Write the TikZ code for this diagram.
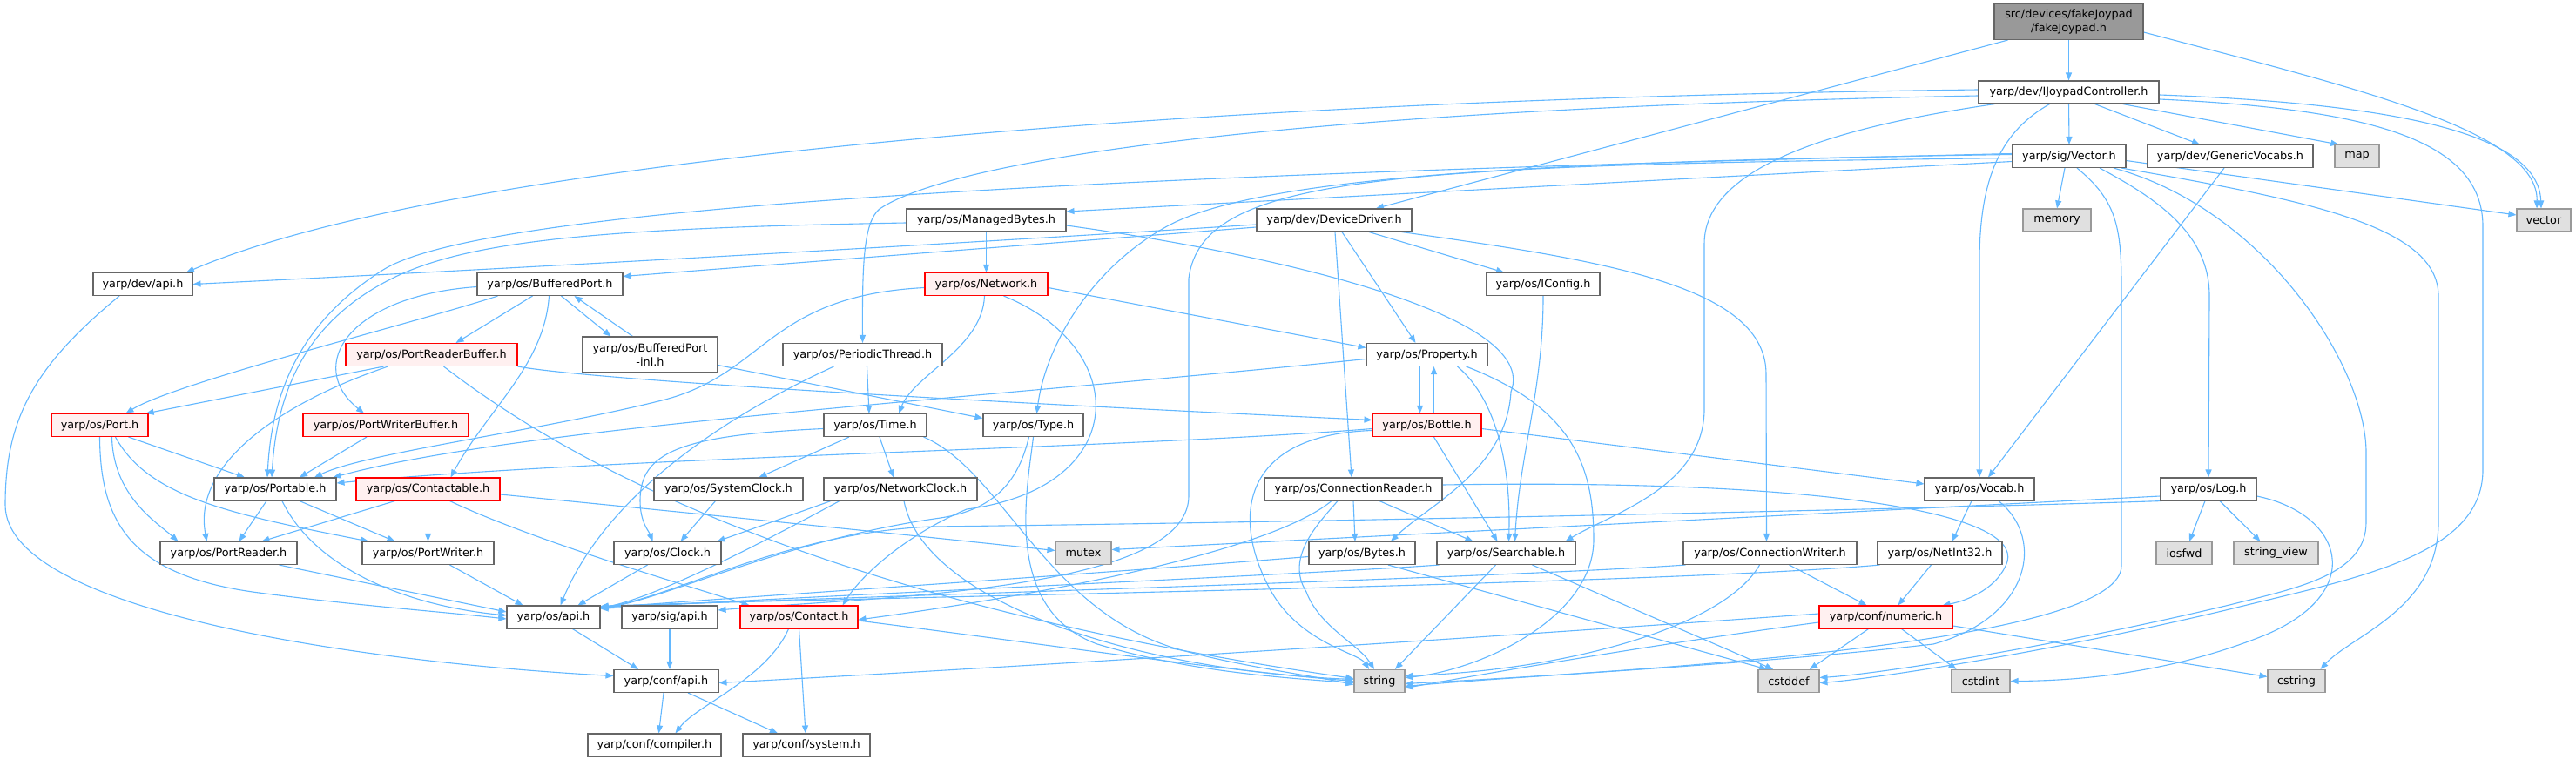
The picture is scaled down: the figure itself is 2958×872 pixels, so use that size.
\documentclass[tikz,border=0pt]{standalone}
\usepackage{fontspec}
\setmainfont{DejaVu Sans}
\usetikzlibrary{arrows.meta}
\definecolor{edgec}{HTML}{63B8FF}
\definecolor{bordc}{HTML}{666666}
\definecolor{gbord}{HTML}{999999}
\definecolor{gfill}{HTML}{E0E0E0}
\definecolor{rfill}{HTML}{FFF0F0}
\definecolor{rbord}{HTML}{FF0000}
\definecolor{mfill}{HTML}{999999}
\pgfdeclarelayer{bg}
\pgfsetlayers{bg,main}
\newcommand{\nfont}{\fontsize{12.8pt}{15.4pt}\selectfont}
\tikzset{
 nbase/.style={rectangle, inner sep=0pt, minimum height=26pt, line width=1.1pt, font=\nfont, text=black},
 nw/.style={nbase, draw=bordc, fill=white},
 nr/.style={nbase, draw=rbord, fill=rfill},
 ng/.style={nbase, draw=gbord, fill=gfill},
 nm/.style={nbase, draw=bordc, fill=mfill, minimum height=41pt, align=center},
 nw2/.style={nw, minimum height=41pt, align=center},
 edg/.style={draw=edgec, line width=1.1pt, -{Triangle[length=9pt,width=7pt]}},
}
\begin{document}
\begin{tikzpicture}[x=1pt,y=-1pt]
\begin{pgfonlayer}{bg}
\fill[white] (0,0) rectangle (2958,872);
\end{pgfonlayer}
\useasboundingbox (0,0) rectangle (2958,872);
% nodes
\node[nm, minimum width=171pt] (fake) at (2375.5,25) {src/devices/fakeJoypad\\/fakeJoypad.h};
\node[nw, minimum width=207pt] (ijoy) at (2375.5,106) {yarp/dev/IJoypadController.h};
\node[nw, minimum width=130pt] (vec) at (2376,179.5) {yarp/sig/Vector.h};
\node[nw, minimum width=190pt] (gv) at (2561,179.5) {yarp/dev/GenericVocabs.h};
\node[ng, minimum width=51pt] (map) at (2706.5,179.5) {map};
\node[nw, minimum width=183pt] (mb) at (1132.5,253) {yarp/os/ManagedBytes.h};
\node[nw, minimum width=178pt] (dd) at (1532,253) {yarp/dev/DeviceDriver.h};
\node[ng, minimum width=78pt] (memory) at (2362,253) {memory};
\node[ng, minimum width=62pt] (vector) at (2921,253) {vector};
\node[nw, minimum width=114pt] (devapi) at (164,326.5) {yarp/dev/api.h};
\node[nw, minimum width=167pt] (bp) at (631.5,326.5) {yarp/os/BufferedPort.h};
\node[nr, minimum width=141pt] (net) at (1132.5,326.5) {yarp/os/Network.h};
\node[nw, minimum width=130pt] (icfg) at (1772,326.5) {yarp/os/IConfig.h};
\node[nr, minimum width=197pt] (prb) at (495.5,407.5) {yarp/os/PortReaderBuffer.h};
\node[nw2, minimum width=155pt] (bpinl) at (746.5,407.5) {yarp/os/BufferedPort\\-inl.h};
\node[nw, minimum width=183pt] (pt) at (990.5,407.5) {yarp/os/PeriodicThread.h};
\node[nw, minimum width=139pt] (prop) at (1638.5,407.5) {yarp/os/Property.h};
\node[nr, minimum width=111pt] (port) at (114.5,488.5) {yarp/os/Port.h};
\node[nr, minimum width=190pt] (pwb) at (443,488.5) {yarp/os/PortWriterBuffer.h};
\node[nw, minimum width=118pt] (time) at (1005,488.5) {yarp/os/Time.h};
\node[nw, minimum width=115pt] (type) at (1186.5,488.5) {yarp/os/Type.h};
\node[nr, minimum width=125pt] (bottle) at (1638.5,488.5) {yarp/os/Bottle.h};
\node[nw, minimum width=140pt] (portable) at (316,562) {yarp/os/Portable.h};
\node[nr, minimum width=165pt] (contactable) at (491.5,562) {yarp/os/Contactable.h};
\node[nw, minimum width=171pt] (sysclock) at (836.5,562) {yarp/os/SystemClock.h};
\node[nw, minimum width=176pt] (netclock) at (1034,562) {yarp/os/NetworkClock.h};
\node[nw, minimum width=204pt] (cr) at (1554,562) {yarp/os/ConnectionReader.h};
\node[nw, minimum width=126pt] (vocab) at (2273,562) {yarp/os/Vocab.h};
\node[nw, minimum width=110pt] (log) at (2536,562) {yarp/os/Log.h};
\node[nw, minimum width=157pt] (preader) at (262.5,635.5) {yarp/os/PortReader.h};
\node[nw, minimum width=151pt] (pwriter) at (491.5,635.5) {yarp/os/PortWriter.h};
\node[nw, minimum width=123pt] (clock) at (766.5,635.5) {yarp/os/Clock.h};
\node[ng, minimum width=64pt] (mutex) at (1244,635.5) {mutex};
\node[nw, minimum width=122pt] (bytes) at (1564,635.5) {yarp/os/Bytes.h};
\node[nw, minimum width=159pt] (search) at (1729.5,635.5) {yarp/os/Searchable.h};
\node[nw, minimum width=199pt] (cw) at (2032.5,635.5) {yarp/os/ConnectionWriter.h};
\node[nw, minimum width=143pt] (netint) at (2227.5,635.5) {yarp/os/NetInt32.h};
\node[ng, minimum width=64pt] (iosfwd) at (2508,635.5) {iosfwd};
\node[ng, minimum width=97pt] (sv) at (2613.5,635.5) {string\_view};
\node[nw, minimum width=107pt] (osapi) at (635.5,709) {yarp/os/api.h};
\node[nw, minimum width=110pt] (sigapi) at (769,709) {yarp/sig/api.h};
\node[nr, minimum width=135pt] (contact) at (917.5,709) {yarp/os/Contact.h};
\node[nr, minimum width=153pt] (numeric) at (2165.5,709) {yarp/conf/numeric.h};
\node[nw, minimum width=120pt] (confapi) at (765,782.5) {yarp/conf/api.h};
\node[ng, minimum width=58pt] (string) at (1584,782.5) {string};
\node[ng, minimum width=70pt] (cstddef) at (2054,782.5) {cstddef};
\node[ng, minimum width=67pt] (cstdint) at (2274.5,782.5) {cstdint};
\node[ng, minimum width=66pt] (cstring) at (2637,782.5) {cstring};
\node[nw, minimum width=153pt] (compiler) at (751.5,856) {yarp/conf/compiler.h};
\node[nw, minimum width=146pt] (system) at (926,856) {yarp/conf/system.h};
% edges
\begin{pgfonlayer}{bg}
% fakeJoypad
\draw[edg] (fake.south) -- (ijoy.north);
\draw[edg] ([xshift=-70pt]fake.south) -- ([xshift=48pt]dd.north);
\draw[edg] ([yshift=-12pt]fake.east) .. controls (2700,100) and (2915,150) .. ([xshift=-8pt]vector.north);
% IJoypadController
\draw[edg] ([yshift=3pt]ijoy.west) .. controls (1300,115) and (500,190) .. ([xshift=50pt]devapi.north);
\draw[edg] ([yshift=-4pt]ijoy.west) .. controls (1500,125) and (1100,180) .. (1010,240) .. controls (992,255) and (990,300) .. (pt.north);
\draw[edg] (ijoy.south) -- (vec.north);
\draw[edg] ([xshift=30pt]ijoy.south) -- ([xshift=-35pt]gv.north);
\draw[edg] ([xshift=62pt]ijoy.south) -- ([xshift=5pt]map.north west);
\draw[edg] ([yshift=-3pt]ijoy.east) .. controls (2780,120) and (2915,160) .. ([xshift=-3pt]vector.north);
\draw[edg] ([xshift=-22pt]ijoy.south) .. controls (2300,150) and (2273,200) .. (2273,300) -- (vocab.north);
\draw[edg] ([xshift=-85pt]ijoy.south) .. controls (2150,140) and (1957,180) .. (1957,280) -- (1957,470) .. controls (1957,560) and (1850,590) .. ([xshift=-12pt]search.north east);
\draw[edg] ([yshift=-8pt]ijoy.east) .. controls (2720,125) and (2851,160) .. (2851,260) -- (2851,540) .. controls (2851,640) and (2700,665) .. (2560,700) .. controls (2350,750) and (2150,780) .. ([yshift=-2pt]cstddef.east);
% DeviceDriver
\draw[edg] ([yshift=-5pt]dd.west) .. controls (1100,280) and (600,308) .. (devapi.east);
\draw[edg] ([yshift=-8pt]dd.west) -- ([yshift=9pt]bp.east);
\draw[edg] ([xshift=9pt]dd.south) -- ([xshift=-13pt]prop.north);
\draw[edg] ([xshift=40pt]dd.south) -- ([xshift=-45pt]icfg.north);
\draw[edg] ([xshift=1pt]dd.south) -- ([xshift=-2pt]cr.north);
\draw[edg] ([xshift=-12pt]dd.south east) .. controls (1850,300) and (2028,330) .. (2028,430) -- ([xshift=-4pt]cw.north);
% ManagedBytes
\draw[edg] (mb.south) -- (net.north);
\draw[edg] ([yshift=-3pt]mb.west) .. controls (700,262) and (540,275) .. (450,320) .. controls (350,370) and (318,450) .. ([xshift=-4pt]portable.north);
\draw[edg] ([yshift=-6pt]mb.east) .. controls (1450,290) and (1770,360) .. (1735,450) .. controls (1730,540) and (1640,580) .. ([xshift=33pt]bytes.north);
% Vector
\draw[edg] ([yshift=-6pt]vec.west) -- ([yshift=10pt]mb.east);
\draw[edg] ([yshift=3pt]vec.west) .. controls (1300,200) and (560,235) .. (440,310) .. controls (345,370) and (312,450) .. ([xshift=-9pt]portable.north);
\draw[edg] ([yshift=2pt]vec.west) .. controls (1800,185) and (1450,200) .. (1340,260) .. controls (1250,310) and (1200,400) .. ([xshift=4pt]type.north);
\draw[edg] ([yshift=-2pt]vec.west) .. controls (1600,190) and (1380,200) .. (1365,320) -- (1365,570) .. controls (1365,680) and (1000,686) .. ([yshift=8pt]sigapi.east);
\draw[edg] ([xshift=-5pt]vec.south) -- (memory.north);
\draw[edg] ([yshift=-5pt]vec.east) -- ([yshift=6pt]vector.west);
\draw[edg] ([xshift=35pt]vec.south) .. controls (2480,230) and (2537,270) .. (2537,340) -- (log.north);
\draw[edg] ([xshift=60pt]vec.south) .. controls (2650,230) and (2800,260) .. (2800,340) -- (2800,600) .. controls (2800,700) and (2700,730) .. ([xshift=-6pt]cstring.north east);
\draw[edg] ([xshift=9pt]vec.south) .. controls (2430,230) and (2436,260) .. (2436,330) -- (2436,650) .. controls (2436,730) and (2000,765) .. ([yshift=-3pt]string.east);
\draw[edg] ([xshift=51pt]vec.south) .. controls (2600,240) and (2717,420) .. (2717,520) -- (2717,600) .. controls (2717,660) and (2640,675) .. (2560,695) .. controls (2350,745) and (2150,775) .. ([yshift=4pt]cstddef.east);
% GenericVocabs
\draw[edg] ([xshift=-7pt]gv.south) -- ([xshift=10pt]vocab.north);
% dev/api
\draw[edg] ([xshift=-27pt]devapi.south) .. controls (40,420) and (6,480) .. (6,580) .. controls (6,700) and (400,760) .. ([yshift=6pt]confapi.west);
% BufferedPort
\draw[edg] ([xshift=-20pt]bp.south) -- ([xshift=28pt]prb.north);
\draw[edg] ([xshift=13pt]bp.south) -- ([xshift=-45pt]bpinl.north);
\draw[edg] ([xshift=-20pt]bpinl.north) -- ([xshift=28pt]bp.south);
\draw[edg] ([xshift=-1pt]bp.south) .. controls (625,420) and (560,470) .. ([xshift=26pt]contactable.north);
\draw[edg] ([xshift=-60pt]bp.south) .. controls (480,370) and (200,440) .. ([xshift=30pt]port.north);
\draw[edg] ([yshift=-3pt]bp.west) .. controls (400,340) and (350,420) .. ([xshift=-25pt]pwb.north);
% PortReaderBuffer
\draw[edg] ([xshift=-55pt]prb.south) -- ([xshift=-3pt]port.north east);
\draw[edg] ([xshift=-50pt]prb.south) .. controls (330,460) and (220,530) .. ([xshift=-25pt]preader.north);
\draw[edg] (prb.south east) .. controls (700,440) and (1300,470) .. ([yshift=6pt]bottle.west);
\draw[edg] ([xshift=14pt]prb.south) .. controls (690,560) and (1000,700) .. ([yshift=3pt]string.west);
% BufferedPort-inl
\draw[edg] ([yshift=-12pt]bpinl.east) -- ([yshift=8pt]type.west);
% PeriodicThread
\draw[edg] ([xshift=5pt]pt.south) -- ([xshift=-7pt]time.north);
\draw[edg] ([xshift=-33pt]pt.south) .. controls (850,470) and (700,560) .. ([xshift=8pt]osapi.north);
% Network
\draw[edg] ([yshift=-4pt]net.east) -- ([yshift=8pt]prop.west);
\draw[edg] ([xshift=-2pt]net.south) .. controls (1128,400) and (1050,430) .. ([xshift=27pt]time.north);
\draw[edg] ([yshift=-4pt]net.west) .. controls (880,340) and (880,430) .. (760,460) .. controls (620,495) and (420,520) .. ([xshift=45pt]portable.north);
\draw[edg] ([xshift=20pt]net.south) .. controls (1300,400) and (1300,560) .. (1110,585) .. controls (1040,615) and (990,660) .. ([xshift=50pt]contact.north);
% Property / Bottle
\draw[edg] ([xshift=-8pt]prop.south) -- ([xshift=-8pt]bottle.north);
\draw[edg] ([xshift=8pt]bottle.north) -- ([xshift=8pt]prop.south);
\draw[edg] ([yshift=-5pt]prop.west) .. controls (1100,460) and (600,490) .. ([xshift=-4pt]portable.north east);
\draw[edg] ([xshift=35pt]prop.south) .. controls (1720,460) and (1735,540) .. ([xshift=3pt]search.north);
\draw[edg] ([xshift=45pt]prop.south) .. controls (1810,470) and (1830,540) .. (1830,620) .. controls (1830,710) and (1700,770) .. ([yshift=4pt]string.east);
\draw[edg] ([xshift=8pt]bottle.south) -- ([xshift=-10pt]search.north);
\draw[edg] ([yshift=-6pt]bottle.west) .. controls (1420,500) and (1415,600) .. (1460,680) .. controls (1495,740) and (1560,750) .. ([xshift=-12pt]string.north);
\draw[edg] ([yshift=-4pt]bottle.west) .. controls (1300,515) and (700,525) .. ([yshift=7pt]portable.east);
\draw[edg] ([yshift=-4pt]bottle.east) -- ([yshift=6pt]vocab.west);
% IConfig
\draw[edg] (icfg.south) .. controls (1772,450) and (1745,520) .. ([xshift=10pt]search.north);
% Type
\draw[edg] ([xshift=-5pt]type.south) .. controls (1170,550) and (1145,585) .. (1080,595) .. controls (900,620) and (760,690) .. ([yshift=-3pt]osapi.north east);
\draw[edg] (type.south) .. controls (1180,560) and (1150,700) .. (1260,740) .. controls (1360,770) and (1460,778) .. ([yshift=-2pt]string.west);
% Time
\draw[edg] ([xshift=-30pt]time.south) -- ([xshift=35pt]sysclock.north);
\draw[edg] ([xshift=5pt]time.south) -- ([xshift=-8pt]netclock.north);
\draw[edg] ([yshift=-4pt]time.west) .. controls (780,500) and (735,520) .. (735,575) .. controls (735,600) and (745,610) .. ([xshift=-17pt]clock.north);
\draw[edg] ([xshift=-4pt]time.south east) .. controls (1150,540) and (1200,700) .. (1350,745) .. controls (1420,765) and (1500,775) .. ([yshift=-4pt]string.west);
% clocks
\draw[edg] ([xshift=-15pt]sysclock.south) -- ([xshift=15pt]clock.north);
\draw[edg] ([xshift=-80pt]netclock.south) -- ([xshift=-5pt]clock.north east);
\draw[edg] ([xshift=-70pt]netclock.south) .. controls (900,610) and (760,685) .. ([yshift=-3pt]osapi.north east);
\draw[edg] ([xshift=4pt]netclock.south) .. controls (1060,690) and (1300,770) .. ([yshift=2pt]string.west);
% Contactable
\draw[edg] ([xshift=-38pt]contactable.south) -- ([xshift=38pt]preader.north);
\draw[edg] (contactable.south) -- (pwriter.north);
\draw[edg] ([xshift=25pt]contactable.south) .. controls (610,620) and (780,670) .. ([xshift=-57pt]contact.north);
\draw[edg] ([yshift=-6pt]contactable.east) .. controls (800,590) and (1000,610) .. ([yshift=3pt]mutex.west);
% Port
\draw[edg] (port.south) .. controls (115,600) and (150,660) .. (290,680) .. controls (400,695) and (500,702) .. ([yshift=-2pt]osapi.west);
\draw[edg] ([xshift=14pt]port.south) .. controls (130,570) and (180,600) .. ([xshift=-58pt]preader.north);
\draw[edg] ([xshift=33pt]port.south) -- ([xshift=-35pt]portable.north);
\draw[edg] ([xshift=18pt]port.south) .. controls (170,570) and (260,590) .. ([xshift=8pt]pwriter.north west);
% Portable
\draw[edg] ([xshift=-10pt]portable.south) -- ([xshift=12pt]preader.north);
\draw[edg] ([xshift=28pt]portable.south) -- ([xshift=-38pt]pwriter.north);
\draw[edg] ([xshift=8pt]portable.south) .. controls (360,650) and (460,695) .. ([yshift=2pt]osapi.west);
\draw[edg] ([xshift=58pt]preader.south) -- ([yshift=6pt]osapi.west);
\draw[edg] ([xshift=25pt]pwriter.south) -- ([xshift=-35pt]osapi.north);
\draw[edg] ([xshift=-22pt]pwb.south) -- ([xshift=28pt]portable.north);
\draw[edg] ([xshift=-23pt]clock.south) -- ([xshift=28pt]osapi.north);
% api
\draw[edg] ([xshift=22pt]osapi.south) -- ([xshift=-32pt]confapi.north);
\draw[edg] (sigapi.south) -- ([xshift=4pt]confapi.north);
\draw[edg] ([yshift=4pt]numeric.west) .. controls (1600,740) and (1100,770) .. ([yshift=-2pt]confapi.east);
\draw[edg] ([xshift=-3pt]confapi.south) -- ([xshift=5pt]compiler.north);
\draw[edg] ([xshift=25pt]confapi.south) -- ([xshift=-33pt]system.north);
% Contact
\draw[edg] ([xshift=-12pt]contact.south) .. controls (880,780) and (800,810) .. ([xshift=24pt]compiler.north);
\draw[edg] (contact.south) -- ([xshift=-1pt]system.north);
\draw[edg] ([yshift=-4pt]contact.east) .. controls (1200,740) and (1400,770) .. (string.west);
% ConnectionReader
\draw[edg] (cr.south) -- ([xshift=-8pt]bytes.north);
\draw[edg] ([xshift=30pt]cr.south) -- ([xshift=-38pt]search.north);
\draw[edg] ([xshift=-18pt]cr.south) .. controls (1515,600) and (1475,640) .. (1500,680) .. controls (1515,720) and (1560,740) .. ([xshift=-6pt]string.north);
\draw[edg] ([xshift=-25pt]cr.south) .. controls (1450,640) and (1150,690) .. ([yshift=-3pt]contact.east);
\draw[edg] ([yshift=5pt]cr.east) .. controls (2100,550) and (2320,590) .. (2305,645) .. controls (2295,675) and (2260,690) .. ([xshift=-12pt]numeric.north east);
% Bytes / Searchable
\draw[edg] ([yshift=-4pt]bytes.west) .. controls (1250,660) and (820,688) .. ([yshift=-3pt]osapi.north east);
\draw[edg] ([xshift=30pt]bytes.south) -- ([xshift=-25pt]cstddef.north);
\draw[edg] ([xshift=3pt]search.south west) .. controls (1500,660) and (900,686) .. ([yshift=-4pt]osapi.north east);
\draw[edg] ([xshift=-12pt]search.south) -- ([xshift=18pt]string.north);
\draw[edg] ([xshift=30pt]search.south) -- ([xshift=-18pt]cstddef.north);
% ConnectionWriter / NetInt32 / Vocab
\draw[edg] ([xshift=22pt]cw.south) -- ([xshift=-22pt]numeric.north);
\draw[edg] ([xshift=-12pt]cw.south) .. controls (1980,720) and (1800,770) .. ([yshift=6pt]string.east);
\draw[edg] ([xshift=3pt]cw.south west) .. controls (1700,665) and (900,688) .. ([yshift=-2pt]osapi.north east);
\draw[edg] ([xshift=-10pt]netint.south) -- ([xshift=14pt]numeric.north);
\draw[edg] ([xshift=3pt]netint.south west) .. controls (1900,672) and (900,688) .. ([yshift=-1pt]osapi.north east);
\draw[edg] ([xshift=-9pt]vocab.south) -- ([xshift=14pt]netint.north);
\draw[edg] ([xshift=22pt]vocab.south) .. controls (2350,620) and (2330,710) .. (2220,740) .. controls (2000,765) and (1750,776) .. ([yshift=-6pt]string.east);
% Log
\draw[edg] ([xshift=2pt]log.south west) .. controls (2200,585) and (1500,600) .. (1070,605) .. controls (900,612) and (770,688) .. ([yshift=-2pt]osapi.north east);
\draw[edg] ([yshift=-8pt]log.west) -- ([yshift=4pt]mutex.east);
\draw[edg] ([xshift=-4pt]log.south) -- ([xshift=6pt]iosfwd.north);
\draw[edg] ([xshift=13pt]log.south) -- ([xshift=-18pt]sv.north);
\draw[edg] ([yshift=-8pt]log.east) .. controls (2690,590) and (2720,680) .. (2600,730) .. controls (2500,770) and (2400,782) .. (cstdint.east);
% numeric
\draw[edg] ([yshift=-6pt]numeric.west) .. controls (1900,740) and (1700,775) .. ([yshift=-8pt]string.east);
\draw[edg] ([xshift=-20pt]numeric.south) -- ([xshift=24pt]cstddef.north);
\draw[edg] ([xshift=18pt]numeric.south) -- ([xshift=-28pt]cstdint.north);
\draw[edg] ([yshift=-10pt]numeric.east) -- ([yshift=5pt]cstring.west);
\end{pgfonlayer}
\end{tikzpicture}
\end{document}
